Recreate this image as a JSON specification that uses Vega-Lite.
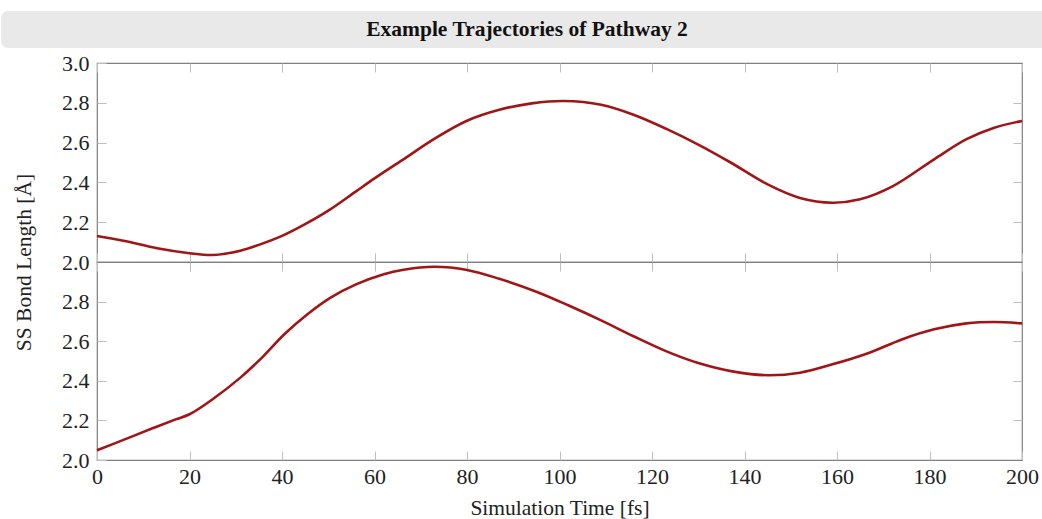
{
  "$schema": "https://vega.github.io/schema/vega-lite/v6.json",
  "padding": {"left": 0, "top": 11, "right": 0, "bottom": 0},
  "spacing": 3,
  "config": {
    "font": "Liberation Serif",
    "view": {"stroke": "#7f7f7f", "strokeWidth": 1.2},
    "axis": {
      "domain": false,
      "grid": false,
      "tickColor": "#bdbdbd",
      "tickWidth": 1,
      "tickSize": -9,
      "labelFont": "Liberation Serif",
      "labelFontSize": 22,
      "labelColor": "#222222",
      "labelFlush": false,
      "titleFont": "Liberation Serif",
      "titleFontSize": 21.5,
      "titleFontWeight": "normal",
      "titleColor": "#222222",
      "minExtent": 0,
      "maxExtent": 200
    }
  },
  "datasets": {
    "p1": [
      {"t": 0, "len": 2.131}, {"t": 6, "len": 2.106}, {"t": 13, "len": 2.069}, {"t": 20, "len": 2.044},
      {"t": 25, "len": 2.035}, {"t": 31, "len": 2.057}, {"t": 35, "len": 2.086}, {"t": 40, "len": 2.131},
      {"t": 45, "len": 2.19}, {"t": 50, "len": 2.258}, {"t": 56, "len": 2.355}, {"t": 60, "len": 2.42},
      {"t": 66, "len": 2.512}, {"t": 73, "len": 2.62}, {"t": 80, "len": 2.71}, {"t": 87, "len": 2.765},
      {"t": 94, "len": 2.797}, {"t": 101, "len": 2.809}, {"t": 109, "len": 2.79}, {"t": 116, "len": 2.74},
      {"t": 123, "len": 2.67}, {"t": 130, "len": 2.59}, {"t": 137, "len": 2.5}, {"t": 145, "len": 2.39},
      {"t": 152, "len": 2.322}, {"t": 159, "len": 2.298}, {"t": 165, "len": 2.315}, {"t": 172, "len": 2.38},
      {"t": 181, "len": 2.516}, {"t": 188, "len": 2.617}, {"t": 194, "len": 2.675}, {"t": 200, "len": 2.709}
    ],
    "p2": [
      {"t": 0, "len": 2.049}, {"t": 6, "len": 2.104}, {"t": 12, "len": 2.16}, {"t": 17, "len": 2.205},
      {"t": 20, "len": 2.231}, {"t": 25, "len": 2.307}, {"t": 31, "len": 2.416}, {"t": 36, "len": 2.525},
      {"t": 40.5, "len": 2.635}, {"t": 45.5, "len": 2.736}, {"t": 50.5, "len": 2.82}, {"t": 56, "len": 2.887},
      {"t": 62, "len": 2.938}, {"t": 66, "len": 2.96}, {"t": 73, "len": 2.976}, {"t": 80, "len": 2.96},
      {"t": 87, "len": 2.915}, {"t": 95, "len": 2.85}, {"t": 102, "len": 2.78}, {"t": 109, "len": 2.705},
      {"t": 116, "len": 2.625}, {"t": 123, "len": 2.55}, {"t": 130, "len": 2.49}, {"t": 138, "len": 2.445},
      {"t": 145, "len": 2.428}, {"t": 152, "len": 2.441}, {"t": 159, "len": 2.483}, {"t": 167, "len": 2.542},
      {"t": 174, "len": 2.609}, {"t": 181, "len": 2.66}, {"t": 188, "len": 2.69}, {"t": 194, "len": 2.697},
      {"t": 200, "len": 2.69}
    ],
    "heading": [{"label": "Example Trajectories of Pathway 2"}]
  },
  "vconcat": [
    {
      "data": {"name": "heading"},
      "width": 925,
      "height": 37,
      "view": {"stroke": null},
      "layer": [
        {
          "mark": {"type": "rect", "color": "#e9e9e9", "cornerRadius": 7},
          "encoding": {
            "x": {"datum": 0, "type": "quantitative", "scale": {"domain": [0, 1], "range": [-96, 956]}, "axis": null},
            "x2": {"datum": 1}
          }
        },
        {
          "mark": {"type": "text", "font": "Liberation Serif", "fontWeight": "bold", "fontSize": 21.5, "color": "#111111", "align": "center", "baseline": "middle"},
          "encoding": {
            "x": {"datum": 0.5, "type": "quantitative"},
            "text": {"field": "label", "type": "nominal"}
          }
        }
      ]
    },
    {
      "spacing": 0,
      "bounds": "flush",
      "vconcat": [
        {
          "data": {"name": "p1"},
          "width": 925,
          "height": 199,
          "resolve": {"axis": {"x": "independent", "y": "independent"}},
          "layer": [
            {
              "mark": {"type": "line", "color": "#a01515", "strokeWidth": 2.6, "interpolate": "catmull-rom"},
              "encoding": {
                "x": {"field": "t", "type": "quantitative", "scale": {"domain": [0, 200], "nice": false},
                      "axis": {"orient": "bottom", "values": [0, 20, 40, 60, 80, 100, 120, 140, 160, 180, 200], "labels": false, "title": null}},
                "y": {"field": "len", "type": "quantitative", "scale": {"domain": [2, 3], "nice": false, "zero": false},
                      "axis": {"orient": "left", "values": [2, 2.2, 2.4, 2.6, 2.8, 3], "format": ".1f", "labelPadding": 17, "title": null, "minExtent": 96, "maxExtent": 96}}
              }
            },
            {
              "mark": {"type": "line", "strokeOpacity": 0, "interpolate": "catmull-rom"},
              "encoding": {
                "x": {"field": "t", "type": "quantitative",
                      "axis": {"orient": "top", "values": [0, 20, 40, 60, 80, 100, 120, 140, 160, 180, 200], "labels": false, "title": null}},
                "y": {"field": "len", "type": "quantitative",
                      "axis": {"orient": "right", "values": [2.2, 2.4, 2.6, 2.8], "labels": false, "title": null}}
              }
            }
          ]
        },
        {
          "data": {"name": "p2"},
          "width": 925,
          "height": 198,
          "resolve": {"axis": {"x": "independent", "y": "independent"}},
          "layer": [
            {
              "mark": {"type": "line", "color": "#a01515", "strokeWidth": 2.6, "interpolate": "catmull-rom"},
              "encoding": {
                "x": {"field": "t", "type": "quantitative", "scale": {"domain": [0, 200], "nice": false},
                      "axis": {"orient": "bottom", "values": [0, 20, 40, 60, 80, 100, 120, 140, 160, 180, 200], "labelPadding": 15, "title": "Simulation Time [fs]", "titlePadding": 10}},
                "y": {"field": "len", "type": "quantitative", "scale": {"domain": [2, 3], "nice": false, "zero": false},
                      "axis": {"orient": "left", "values": [2, 2.2, 2.4, 2.6, 2.8], "format": ".1f", "labelPadding": 17, "minExtent": 96, "maxExtent": 96,
                               "title": "SS Bond Length [Å]", "titleX": -84, "titleY": 0, "titleAngle": 270, "titleAlign": "center", "titleBaseline": "top"}}
              }
            },
            {
              "mark": {"type": "line", "strokeOpacity": 0, "interpolate": "catmull-rom"},
              "encoding": {
                "x": {"field": "t", "type": "quantitative",
                      "axis": {"orient": "top", "values": [0, 20, 40, 60, 80, 100, 120, 140, 160, 180, 200], "labels": false, "title": null}},
                "y": {"field": "len", "type": "quantitative",
                      "axis": {"orient": "right", "values": [2.2, 2.4, 2.6, 2.8], "labels": false, "title": null}}
              }
            }
          ]
        }
      ]
    }
  ]
}
